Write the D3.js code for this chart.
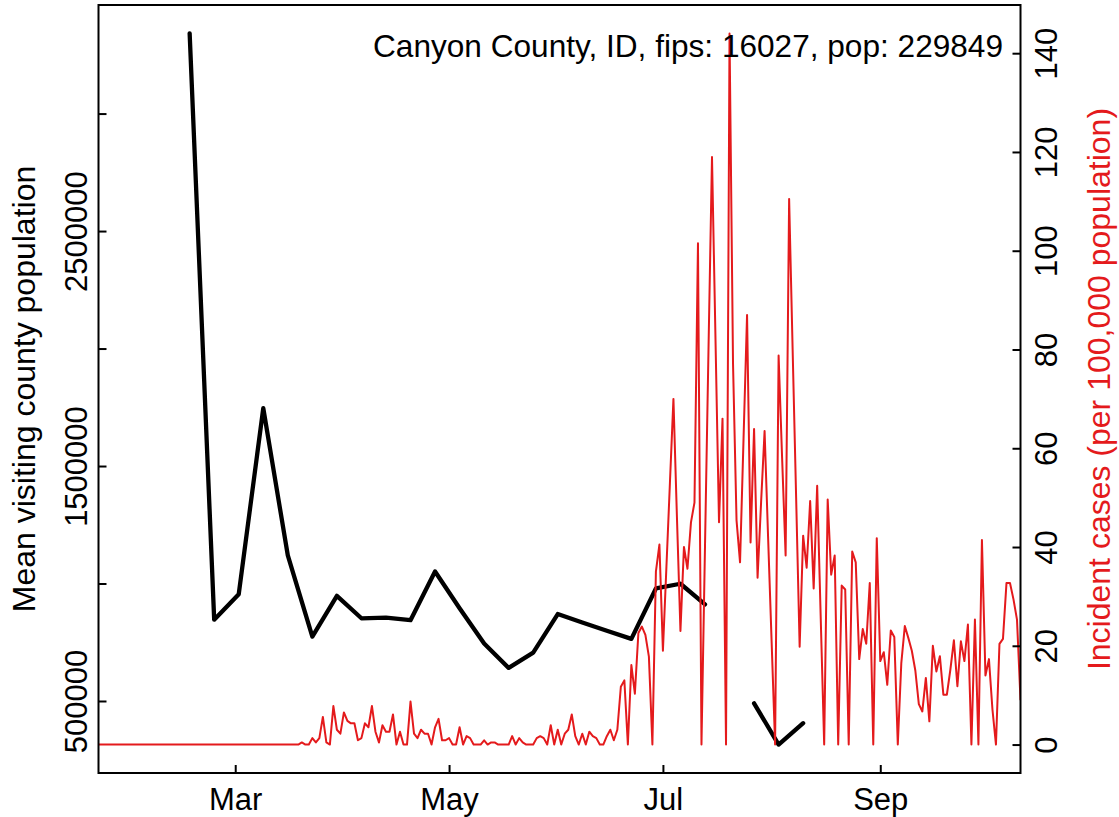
<!DOCTYPE html>
<html><head><meta charset="utf-8">
<script src="https://cdn.jsdelivr.net/npm/d3@7"></script>
<style>
body{margin:0;background:#fff}
svg{display:block}
text{font-family:"Liberation Sans",Arial,Helvetica,sans-serif}
</style>
</head><body>
<svg id="chart" width="1119" height="817"></svg>
<script>
// ---------------- data ----------------
const titleText = "Canyon County, ID, fips: 16027, pop: 229849";
const leftAxisTitle = "Mean visiting county population";
const rightAxisTitle = "Incident cases (per 100,000 population)";

// daily incident cases per 100k, starting 2020-01-22
const caseStartDate = "2020-01-22";
const caseValues = [
  0,0,0,0,0,0,0,0,0,0, 0,0,0,0,0,0,0,0,0,0,
  0,0,0,0,0,0,0,0,0,0, 0,0,0,0,0,0,0,0,0,0,
  0,0,0,0,0,0,0,0,0,0, 0,0,0,0,0,0,0,0,
  0.43,0,0,1.3,0.43,1.3,5.6,0.43,0,7.8,
  3.0,2.2,6.5,4.8,4.3,4.3,0.87,1.3,4.3,3.5,
  7.8,2.6,0.43,3.9,2.6,2.6,6.1,0,2.6,0,
  0,8.7,2.2,1.3,3.0,2.2,2.2,0,3.5,5.2,
  0.87,0.87,1.3,0,0,3.5,0,1.7,1.3,0,
  0,0,0.87,0,0.43,0.43,0,0,0,0,
  1.7,0,1.3,0.43,0,0,0,1.3,1.7,1.3,
  0,3.9,0,3.0,0,2.2,3.0,6.1,1.7,0,
  2.2,0,2.6,1.7,1.3,0,0,1.7,3.0,0.87,
  3.0,11.7,13.0,0,16.1,10.3,22.6,23.9,22.2,17.8,
  0,35,40.5,19,36,53,70,46,23,40,
  35.6,45,49,101.5,0,40,80,119,82,45,
  66,0,144,77,45.4,36.9,62,87,40.9,63.9,
  33.8,49,63.5,42,21,0,78.8,58,38.3,110.5,
  80,50,19.8,42.3,35.8,49.3,31.6,52.4,26,0,
  49.6,34.4,38.3,0,32.2,31.4,0,39.1,36.9,17.3,
  23.4,20.4,32.7,0,41.8,16.9,18.7,12.1,23.1,21.8,
  0,16.5,24.0,21.6,19,15,8.2,6.7,13.5,4.7,
  20,14.8,17.9,10.1,10.1,15.2,21.1,11.8,20.9,16.9,
  24.3,0,25.3,0,41.4,14,17.3,7.1,0,20.4,
  21.4,32.7,32.7,29.4,25.3,9
];

// weekly mean visiting county population, starting 2020-02-17 (null = missing)
const visitStartDate = "2020-02-17";
const visitValues = [
  3341000, 846000, 954000, 1746000, 1119500, 774000, 947700, 852000,
  855000, 844000, 1051000, 895000, 745000, 641000, 706000, 870000,
  834000, 799000, 764500, 979000, 999000, 911000, null, 490000,
  314600, 405600
];

const leftTicks = [500000, 1000000, 1500000, 2000000, 2500000, 3000000];
const leftTickLabels = ["500000", "", "1500000", "", "2500000", ""];
const rightTicks = [0, 20, 40, 60, 80, 100, 120, 140];
const monthTicks = ["2020-03-01", "2020-05-01", "2020-07-01", "2020-09-01"];
const monthLabels = ["Mar", "May", "Jul", "Sep"];

// ---------------- layout ----------------
const plot = {left: 98.5, right: 1020.5, top: 5, bottom: 773};
const FS = 31, FT = 32, FH = 31.6;
const red = "#E41A1C";

const parse = d3.timeParse("%Y-%m-%d");
const caseStart = parse(caseStartDate);
const visitStart = parse(visitStartDate);
const cases = caseValues.map((v, i) => ({date: d3.timeDay.offset(caseStart, i), v}));
const visits = visitValues.map((v, i) => ({date: d3.timeDay.offset(visitStart, 7 * i), v}));

const svg = d3.select("#chart");

const x = d3.scaleTime()
  .domain([cases[0].date, cases[cases.length - 1].date])
  .range([plot.left, plot.right]);

function padded(ext) { const r = ext[1] - ext[0]; return [ext[0] - 0.04 * r, ext[1] + 0.04 * r]; }

const yL = d3.scaleLinear()
  .domain(padded(d3.extent(visitValues.filter(v => v != null))))
  .range([plot.bottom, plot.top]);
const yR = d3.scaleLinear()
  .domain(padded([0, d3.max(caseValues)]))
  .range([plot.bottom, plot.top]);

svg.append("defs").append("clipPath").attr("id", "clip")
  .append("rect").attr("x", plot.left).attr("y", plot.top)
  .attr("width", plot.right - plot.left).attr("height", plot.bottom - plot.top);

// black line (visits)
const lineL = d3.line().defined(d => d.v != null).x(d => x(d.date)).y(d => yL(d.v));
svg.append("path").datum(visits)
  .attr("clip-path", "url(#clip)")
  .attr("d", lineL).attr("fill", "none").attr("stroke", "#000")
  .attr("stroke-width", 4.3).attr("stroke-linejoin", "round").attr("stroke-linecap", "round");

// red line (cases)
const lineR = d3.line().x(d => x(d.date)).y(d => yR(d.v));
svg.append("path").datum(cases)
  .attr("clip-path", "url(#clip)")
  .attr("d", lineR).attr("fill", "none").attr("stroke", red)
  .attr("stroke-width", 2).attr("stroke-linejoin", "round");

// axes
const gx = svg.append("g").attr("transform", `translate(0,${plot.bottom})`)
  .call(d3.axisBottom(x).tickValues(monthTicks.map(parse))
    .tickFormat((d, i) => monthLabels[i]).tickSizeInner(-8).tickSizeOuter(0));
const gl = svg.append("g").attr("transform", `translate(${plot.left},0)`)
  .call(d3.axisLeft(yL).tickValues(leftTicks)
    .tickFormat((d, i) => leftTickLabels[i]).tickSizeInner(-8).tickSizeOuter(0));
const gr = svg.append("g").attr("transform", `translate(${plot.right},0)`)
  .call(d3.axisRight(yR).tickValues(rightTicks)
    .tickFormat(d3.format("d")).tickSizeInner(-8).tickSizeOuter(0));

[gx, gl, gr].forEach(g => {
  g.select(".domain").remove();
  g.selectAll(".tick line").attr("stroke", "#000").attr("stroke-width", 2);
  g.selectAll(".tick text").attr("fill", "#000").style("font-size", FS + "px");
});
gx.selectAll(".tick text").attr("y", 37).attr("dy", null).attr("text-anchor", "middle");
gl.selectAll(".tick text").attr("x", null).attr("dy", null)
  .attr("text-anchor", "middle").attr("transform", "translate(-11.5,0) rotate(-90)");
gr.selectAll(".tick text").attr("x", null).attr("dy", null)
  .attr("text-anchor", "middle").attr("transform", "translate(36.5,0) rotate(-90)");

// box
svg.append("rect").attr("x", plot.left).attr("y", plot.top)
  .attr("width", plot.right - plot.left).attr("height", plot.bottom - plot.top)
  .attr("fill", "none").attr("stroke", "#000").attr("stroke-width", 2);

// titles
const cy = (plot.top + plot.bottom) / 2;
svg.append("text").attr("x", 1003).attr("y", 57).attr("text-anchor", "end")
  .style("font-size", FH + "px").attr("fill", "#000").text(titleText);
svg.append("text").attr("transform", `translate(35,${cy}) rotate(-90)`)
  .attr("text-anchor", "middle").style("font-size", FT + "px").attr("fill", "#000")
  .text(leftAxisTitle);
svg.append("text").attr("transform", `translate(1110,${cy}) rotate(-90)`)
  .attr("text-anchor", "middle").style("font-size", FT + "px").attr("fill", red)
  .text(rightAxisTitle);
</script>
</body></html>
